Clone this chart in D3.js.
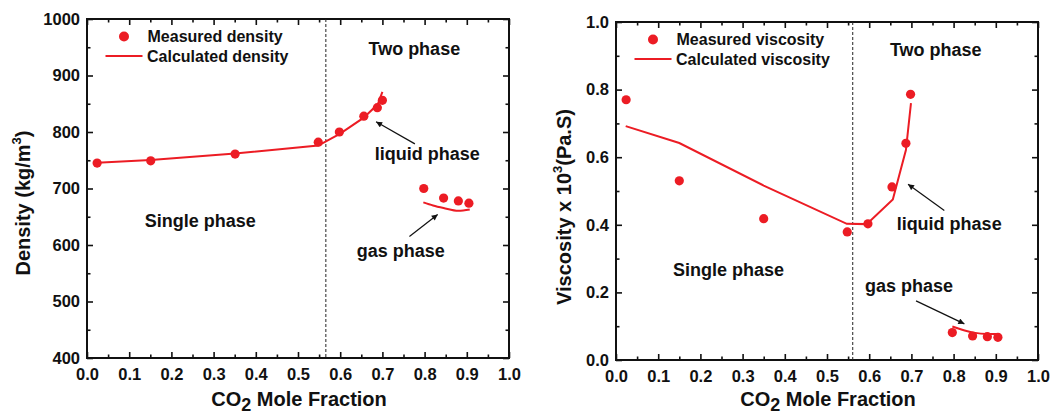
<!DOCTYPE html>
<html>
<head>
<meta charset="utf-8">
<script src="https://cdn.jsdelivr.net/npm/d3@7"></script>
<style>
  html, body { margin: 0; padding: 0; background: #fff; }
  svg { display: block; }
  text { font-family: "Liberation Sans", Arial, sans-serif; font-weight: bold; fill: #111; }
</style>
</head>
<body>
<svg id="chart" width="1052" height="416"></svg>
<script>
// ---------------- DATA ----------------
const xTicks = [0, 0.1, 0.2, 0.3, 0.4, 0.5, 0.6, 0.7, 0.8, 0.9, 1.0];

// Density panel
const densityMeasuredX = [0.024, 0.151, 0.351, 0.548, 0.598, 0.656, 0.688, 0.700, 0.798, 0.845, 0.880, 0.905];
const densityMeasured  = [745, 749, 761, 782, 800, 828, 843, 856, 700, 683, 678, 674];
const densityCalcX     = [0.024, 0.151, 0.351, 0.548, 0.600, 0.655, 0.689, 0.700];
const densityCalc      = [745.5, 750.5, 762, 776, 797, 825, 849, 871];
const densityGasCalcX  = [0.797, 0.820, 0.845, 0.880, 0.907];
const densityGasCalc   = [675.5, 670, 665.5, 660.5, 663];
const densityTicks     = [400, 500, 600, 700, 800, 900, 1000];
const densityBoundary  = 0.566;

// Viscosity panel
const viscMeasuredX = [0.024, 0.150, 0.350, 0.548, 0.597, 0.654, 0.687, 0.698, 0.797, 0.845, 0.880, 0.905];
const viscMeasured  = [0.770, 0.530, 0.418, 0.379, 0.403, 0.512, 0.641, 0.786, 0.081, 0.071, 0.069, 0.067];
const viscCalcX     = [0.023, 0.150, 0.350, 0.547, 0.594, 0.656, 0.687, 0.699];
const viscCalc      = [0.692, 0.642, 0.516, 0.403, 0.402, 0.475, 0.621, 0.760];
const viscGasCalcX  = [0.797, 0.847, 0.880, 0.903];
const viscGasCalc   = [0.099, 0.081, 0.077, 0.077];
const viscTicks     = [0.0, 0.2, 0.4, 0.6, 0.8, 1.0];
const viscBoundary  = 0.561;

// Annotation texts (data coordinates)
const densityNotes = [
  {text: "Two phase",    x: 0.667, y: 937},
  {text: "Single phase", x: 0.137, y: 632},
  {text: "liquid phase", x: 0.682, y: 750},
  {text: "gas phase",    x: 0.639, y: 579}
];
const densityArrows = [
  {x1: 0.777, y1: 779, x2: 0.685, y2: 818},
  {x1: 0.764, y1: 615, x2: 0.831, y2: 654}
];
const viscNotes = [
  {text: "Two phase",    x: 0.649, y: 0.899},
  {text: "Single phase", x: 0.135, y: 0.248},
  {text: "liquid phase", x: 0.665, y: 0.385},
  {text: "gas phase",    x: 0.590, y: 0.202}
];
const viscArrows = [
  {x1: 0.778, y1: 0.442, x2: 0.692, y2: 0.520},
  {x1: 0.711, y1: 0.175, x2: 0.8255, y2: 0.107}
];

const RED = "#ec1c24";

// ---------------- DRAW ----------------
const svg = d3.select("#chart");
const defs = svg.append("defs");
defs.append("marker")
  .attr("id", "arrow")
  .attr("viewBox", "0 0 10 10")
  .attr("refX", 10).attr("refY", 5)
  .attr("markerWidth", 7).attr("markerHeight", 6)
  .attr("markerUnits", "userSpaceOnUse")
  .attr("orient", "auto")
  .append("path").attr("d", "M0,0 L10,5 L0,10 Z").attr("fill", "#111");

function panel(cfg) {
  const g = svg.append("g");
  const x = d3.scaleLinear().domain([0, 1]).range([cfg.left, cfg.right]);
  const y = d3.scaleLinear().domain(cfg.yDomain).range([cfg.bottom, cfg.top]);
  const xMinor = d3.range(0.05, 1.0, 0.1);
  const yMinor = cfg.yMinor;

  // axes (ticks inward)
  const axisStyle = sel => {
    sel.select(".domain").remove();
    sel.selectAll(".tick line").attr("stroke", "#111").attr("stroke-width", 1.6);
    sel.selectAll(".tick text").attr("font-size", 16.5).attr("fill", "#111")
       .attr("font-family", "Liberation Sans, Arial, sans-serif").attr("font-weight", "bold");
  };
  g.append("g").attr("transform", `translate(0,${cfg.bottom})`)
    .call(d3.axisBottom(x).tickValues(xTicks).tickSize(-6).tickPadding(10).tickFormat(d3.format(".1f")))
    .call(axisStyle);
  g.append("g").attr("transform", `translate(0,${cfg.bottom})`)
    .call(d3.axisBottom(x).tickValues(xMinor).tickSize(-3.5).tickFormat(""))
    .call(axisStyle);
  g.append("g").attr("transform", `translate(0,${cfg.top})`)
    .call(d3.axisTop(x).tickValues(xTicks).tickSize(-6).tickFormat(""))
    .call(axisStyle);
  g.append("g").attr("transform", `translate(0,${cfg.top})`)
    .call(d3.axisTop(x).tickValues(xMinor).tickSize(-3.5).tickFormat(""))
    .call(axisStyle);
  g.append("g").attr("transform", `translate(${cfg.left},0)`)
    .call(d3.axisLeft(y).tickValues(cfg.yTicks).tickSize(-6).tickPadding(7).tickFormat(cfg.yFormat))
    .call(axisStyle);
  g.append("g").attr("transform", `translate(${cfg.left},0)`)
    .call(d3.axisLeft(y).tickValues(yMinor).tickSize(-3.5).tickFormat(""))
    .call(axisStyle);
  g.append("g").attr("transform", `translate(${cfg.right},0)`)
    .call(d3.axisRight(y).tickValues(cfg.yTicks).tickSize(-6).tickFormat(""))
    .call(axisStyle);
  g.append("g").attr("transform", `translate(${cfg.right},0)`)
    .call(d3.axisRight(y).tickValues(yMinor).tickSize(-3.5).tickFormat(""))
    .call(axisStyle);

  // frame
  g.append("rect")
    .attr("x", cfg.left).attr("y", cfg.top)
    .attr("width", cfg.right - cfg.left).attr("height", cfg.bottom - cfg.top)
    .attr("fill", "none").attr("stroke", "#111").attr("stroke-width", 2);

  // boundary
  g.append("line")
    .attr("x1", x(cfg.boundary)).attr("x2", x(cfg.boundary))
    .attr("y1", cfg.top).attr("y2", cfg.bottom)
    .attr("stroke", "#222").attr("stroke-width", 1).attr("stroke-dasharray", "3,2");

  // calculated lines
  const line = d3.line().x(d => x(d[0])).y(d => y(d[1]));
  const lineSmooth = d3.line().x(d => x(d[0])).y(d => y(d[1])).curve(d3.curveMonotoneX);
  g.append("path").datum(d3.zip(cfg.calcX, cfg.calc))
    .attr("d", line).attr("fill", "none").attr("stroke", RED).attr("stroke-width", 2);
  g.append("path").datum(d3.zip(cfg.gasX, cfg.gas))
    .attr("d", lineSmooth).attr("fill", "none").attr("stroke", RED).attr("stroke-width", 2);

  // measured points
  g.selectAll("circle.pt").data(d3.zip(cfg.measX, cfg.meas)).join("circle")
    .attr("class", "pt")
    .attr("cx", d => x(d[0])).attr("cy", d => y(d[1])).attr("r", 4.6)
    .attr("fill", RED);

  // annotations
  g.selectAll("text.note").data(cfg.notes).join("text")
    .attr("class", "note")
    .attr("x", d => x(d.x)).attr("y", d => y(d.y))
    .attr("font-size", 18).text(d => d.text);
  g.selectAll("line.arrow").data(cfg.arrows).join("line")
    .attr("class", "arrow")
    .attr("x1", d => x(d.x1)).attr("y1", d => y(d.y1))
    .attr("x2", d => x(d.x2)).attr("y2", d => y(d.y2))
    .attr("stroke", "#111").attr("stroke-width", 1.2)
    .attr("marker-end", "url(#arrow)");

  // legend
  const lg = g.append("g").attr("transform", `translate(${cfg.left},${cfg.top})`);
  lg.append("circle").attr("cx", 37).attr("cy", 17.5).attr("r", 5).attr("fill", RED);
  lg.append("text").attr("x", 60.5).attr("y", 23).attr("font-size", 16).text(cfg.legend[0]);
  lg.append("line").attr("x1", 18.5).attr("x2", 55.5).attr("y1", 37).attr("y2", 37)
    .attr("stroke", RED).attr("stroke-width", 2);
  lg.append("text").attr("x", 60).attr("y", 43).attr("font-size", 16).text(cfg.legend[1]);

  // x title
  const xt = g.append("text")
    .attr("x", (cfg.left + cfg.right) / 2 + 1).attr("y", 406)
    .attr("text-anchor", "middle").attr("font-size", 20);
  xt.append("tspan").text("CO");
  xt.append("tspan").attr("dy", 5).attr("font-size", 18).text("2");
  xt.append("tspan").attr("dy", -5).text(" Mole Fraction");

  // y title
  const yt = g.append("text")
    .attr("transform", `translate(${cfg.yTitleX},${cfg.yTitleY}) rotate(-90)`)
    .attr("text-anchor", "middle").attr("font-size", 20);
  cfg.yTitle(yt);
}

panel({
  left: 87, right: 509, top: 19, bottom: 358,
  yDomain: [400, 1000], yTicks: densityTicks, yMinor: d3.range(450, 1000, 100),
  yFormat: d3.format("d"),
  boundary: densityBoundary,
  measX: densityMeasuredX, meas: densityMeasured,
  calcX: densityCalcX, calc: densityCalc,
  gasX: densityGasCalcX, gas: densityGasCalc,
  notes: densityNotes, arrows: densityArrows,
  legend: ["Measured density", "Calculated density"],
  yTitleX: 30, yTitleY: 203,
  yTitle: t => {
    t.append("tspan").text("Density (kg/m");
    t.append("tspan").attr("dy", -9).attr("font-size", 13).text("3");
    t.append("tspan").attr("dy", 9).text(")");
  }
});

panel({
  left: 616, right: 1038, top: 22, bottom: 360,
  yDomain: [0, 1], yTicks: viscTicks, yMinor: d3.range(0.1, 1.0, 0.2),
  yFormat: d3.format(".1f"),
  boundary: viscBoundary,
  measX: viscMeasuredX, meas: viscMeasured,
  calcX: viscCalcX, calc: viscCalc,
  gasX: viscGasCalcX, gas: viscGasCalc,
  notes: viscNotes, arrows: viscArrows,
  legend: ["Measured viscosity", "Calculated viscosity"],
  yTitleX: 571, yTitleY: 207,
  yTitle: t => {
    t.append("tspan").text("Viscosity x 10");
    t.append("tspan").attr("dy", -9).attr("font-size", 13).text("3");
    t.append("tspan").attr("dy", 9).text("(Pa.S)");
  }
});
</script>
</body>
</html>
